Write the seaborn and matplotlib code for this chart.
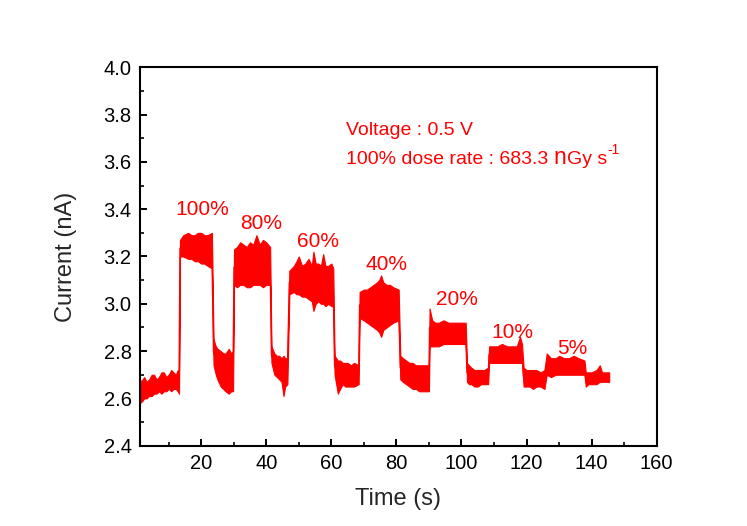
import numpy as np
import pandas as pd
import matplotlib
matplotlib.use("Agg")
import matplotlib.pyplot as plt
import seaborn as sns
from matplotlib.ticker import MultipleLocator

# ---- data: (time, lower envelope, upper envelope) ----
time_s = [1.2, 2.0, 2.5, 3.2, 4.0, 4.8, 5.5, 6.3, 7.0, 7.8, 8.5, 9.3, 10.0, 10.8, 11.5, 12.2, 12.8, 13.2,
          13.5, 14.5, 16.0, 17.0, 18.0, 19.0, 20.0, 21.0, 22.0, 23.3,
          23.8, 24.5, 25.0, 26.0, 26.8, 27.5, 28.5, 29.2, 29.8,
          30.1, 31.0, 32.0, 33.0, 34.0, 35.0, 36.0, 37.0, 38.0, 39.0, 40.0, 41.2,
          41.6, 42.5, 43.3, 44.0, 44.7, 45.3, 45.8, 46.5,
          47.1, 48.5, 49.3, 50.0, 51.0, 52.0, 53.0, 54.0, 54.5, 55.2, 56.0, 56.8, 57.5, 58.2, 59.0, 60.0, 60.6,
          61.0, 61.5, 62.0, 62.7, 63.5, 64.3, 65.0, 66.0, 67.0, 68.4,
          68.7, 70.0, 71.0, 72.0, 73.0, 74.0, 74.7, 75.3, 76.0, 77.0, 78.0, 79.0, 80.7,
          81.2, 82.0, 83.0, 84.0, 85.0, 86.0, 87.0, 88.0, 89.0, 90.0,
          90.2, 91.0, 92.0, 93.0, 94.5, 96.0, 97.5, 99.0, 100.2, 101.3,
          101.7, 102.3, 103.0, 104.0, 105.0, 106.0, 107.0, 108.2,
          108.5, 110.0, 111.0, 112.5, 114.0, 115.5, 117.0, 118.0, 118.6,
          119.1, 120.0, 121.0, 122.0, 123.0, 124.3, 125.5,
          126.2, 127.5, 129.0, 130.0, 131.5, 133.0, 134.5, 136.0, 137.8,
          138.2, 139.0, 140.0, 141.5, 142.5, 143.2, 144.0, 145.4]
current_low = [2.58, 2.59, 2.60, 2.60, 2.61, 2.61, 2.62, 2.62, 2.63, 2.62, 2.63, 2.63, 2.64, 2.63, 2.64, 2.64, 2.63, 2.62,
               3.20, 3.20, 3.19, 3.19, 3.18, 3.18, 3.17, 3.17, 3.16, 3.15,
               2.74, 2.70, 2.68, 2.65, 2.64, 2.63, 2.62, 2.63, 2.63,
               3.08, 3.07, 3.08, 3.08, 3.07, 3.07, 3.08, 3.08, 3.08, 3.07, 3.08, 3.08,
               2.75, 2.70, 2.69, 2.68, 2.67, 2.61, 2.65, 2.66,
               3.04, 3.05, 3.04, 3.04, 3.03, 3.03, 3.02, 3.01, 2.97, 3.00, 3.01, 3.00, 3.00, 2.99, 3.00, 2.99, 2.99,
               2.70, 2.66, 2.62, 2.64, 2.66, 2.65, 2.65, 2.65, 2.65, 2.66,
               2.94, 2.93, 2.92, 2.91, 2.90, 2.89, 2.88, 2.86, 2.89, 2.90, 2.91, 2.92, 2.93,
               2.68, 2.67, 2.66, 2.65, 2.64, 2.64, 2.63, 2.63, 2.63, 2.63,
               2.82, 2.82, 2.82, 2.82, 2.83, 2.83, 2.83, 2.83, 2.83, 2.83,
               2.67, 2.66, 2.66, 2.65, 2.65, 2.66, 2.66, 2.66,
               2.75, 2.75, 2.75, 2.75, 2.75, 2.75, 2.75, 2.75, 2.75,
               2.65, 2.65, 2.65, 2.64, 2.65, 2.65, 2.64,
               2.70, 2.69, 2.70, 2.70, 2.70, 2.70, 2.70, 2.70, 2.70,
               2.65, 2.66, 2.66, 2.66, 2.67, 2.67, 2.67, 2.67]
current_high = [2.67, 2.68, 2.69, 2.67, 2.68, 2.70, 2.70, 2.68, 2.69, 2.71, 2.71, 2.69, 2.70, 2.72, 2.71, 2.70, 2.72, 2.72,
                3.27, 3.29, 3.30, 3.29, 3.29, 3.30, 3.30, 3.29, 3.29, 3.30,
                2.85, 2.82, 2.81, 2.80, 2.79, 2.79, 2.81, 2.79, 2.80,
                3.23, 3.24, 3.26, 3.25, 3.24, 3.26, 3.25, 3.29, 3.25, 3.27, 3.26, 3.24,
                2.82, 2.79, 2.78, 2.78, 2.77, 2.78, 2.77, 2.77,
                3.14, 3.16, 3.18, 3.20, 3.16, 3.17, 3.19, 3.16, 3.22, 3.17, 3.17, 3.16, 3.21, 3.16, 3.16, 3.17, 3.15,
                2.78, 2.77, 2.76, 2.76, 2.75, 2.75, 2.75, 2.74, 2.75, 2.74,
                3.05, 3.06, 3.06, 3.07, 3.08, 3.09, 3.10, 3.12, 3.09, 3.08, 3.08, 3.07, 3.06,
                2.78, 2.77, 2.76, 2.75, 2.75, 2.74, 2.74, 2.74, 2.74, 2.74,
                2.98, 2.93, 2.92, 2.92, 2.93, 2.92, 2.92, 2.92, 2.92, 2.92,
                2.75, 2.74, 2.73, 2.72, 2.72, 2.72, 2.72, 2.73,
                2.82, 2.82, 2.82, 2.83, 2.82, 2.82, 2.82, 2.86, 2.83,
                2.73, 2.72, 2.72, 2.72, 2.72, 2.71, 2.72,
                2.79, 2.77, 2.77, 2.78, 2.77, 2.77, 2.78, 2.77, 2.76,
                2.71, 2.71, 2.71, 2.72, 2.74, 2.71, 2.71, 2.71]

dose_labels = ["100%", "80%", "60%", "40%", "20%", "10%", "5%"]
label_time = [20.2, 38.5, 55.8, 77.1, 98.5, 115.7, 134.2]
label_current = [3.397, 3.341, 3.265, 3.164, 3.02, 2.88, 2.809]

x_ticks = [20, 40, 60, 80, 100, 120, 140, 160]
y_ticks = [2.4, 2.6, 2.8, 3.0, 3.2, 3.4, 3.6, 3.8, 4.0]

df = pd.DataFrame({
    "time": time_s + time_s,
    "current": current_low + current_high,
})

sns.set_theme(style="ticks")
plt.rcParams["font.family"] = ["Liberation Sans", "DejaVu Sans"]
plt.rcParams["mathtext.fontset"] = "custom"
plt.rcParams["mathtext.rm"] = "Liberation Sans"
plt.rcParams["mathtext.it"] = "Liberation Sans:italic"

red = "#FF0000"
fig = plt.figure(figsize=(7.47, 5.26), dpi=100)
ax = fig.add_axes([0.1874, 0.1527, 0.6917, 0.7194])

sns.lineplot(data=df, x="time", y="current", ax=ax, color=red, linewidth=1.0,
             estimator="mean", errorbar=lambda v: (v.min(), v.max()),
             err_kws={"alpha": 1.0, "linewidth": 0.8, "edgecolor": red})

for lab, t, c in zip(dose_labels, label_time, label_current):
    ax.text(t, c, lab, color=red, fontsize=15, ha="center", va="center")

ax.text(64.6, 3.714, "Voltage : 0.5 V", color=red, fontsize=14, ha="left", va="baseline")
line2_y = 3.591
t1 = ax.text(64.6, line2_y, "100% dose rate : 683.3 ", color=red, fontsize=14,
             ha="left", va="baseline")
t2 = ax.annotate("n", xy=(1, line2_y), xycoords=(t1, "data"), color=red, fontsize=16.5,
                 ha="left", va="baseline")
t3 = ax.annotate("Gy s", xy=(1, line2_y), xycoords=(t2, "data"), color=red, fontsize=14,
                 ha="left", va="baseline")
ax.annotate("-1", xy=(1, line2_y), xycoords=(t3, "data"), xytext=(0.5, 7),
            textcoords="offset points", color=red, fontsize=10,
            ha="left", va="baseline")

ax.set_xlim(1.2, 160)
ax.set_ylim(2.4, 4.0)
ax.set_xticks(x_ticks)
ax.set_yticks(y_ticks)
ax.set_yticklabels([f"{v:.1f}" for v in y_ticks])
ax.xaxis.set_minor_locator(MultipleLocator(10))
ax.yaxis.set_minor_locator(MultipleLocator(0.1))
ax.tick_params(which="major", direction="in", length=5, width=1.4,
               labelsize=14.5, pad=6, colors="black", top=False, right=False)
ax.tick_params(which="minor", direction="in", length=3.2, width=1.4,
               top=False, right=False)
for s in ax.spines.values():
    s.set_linewidth(1.5)
    s.set_color("black")
    s.set_visible(True)

ax.set_xlabel("Time (s)", fontsize=17, labelpad=11)
ax.set_ylabel("Current (nA)", fontsize=17, labelpad=19)

fig.savefig("out.png", dpi=100)
